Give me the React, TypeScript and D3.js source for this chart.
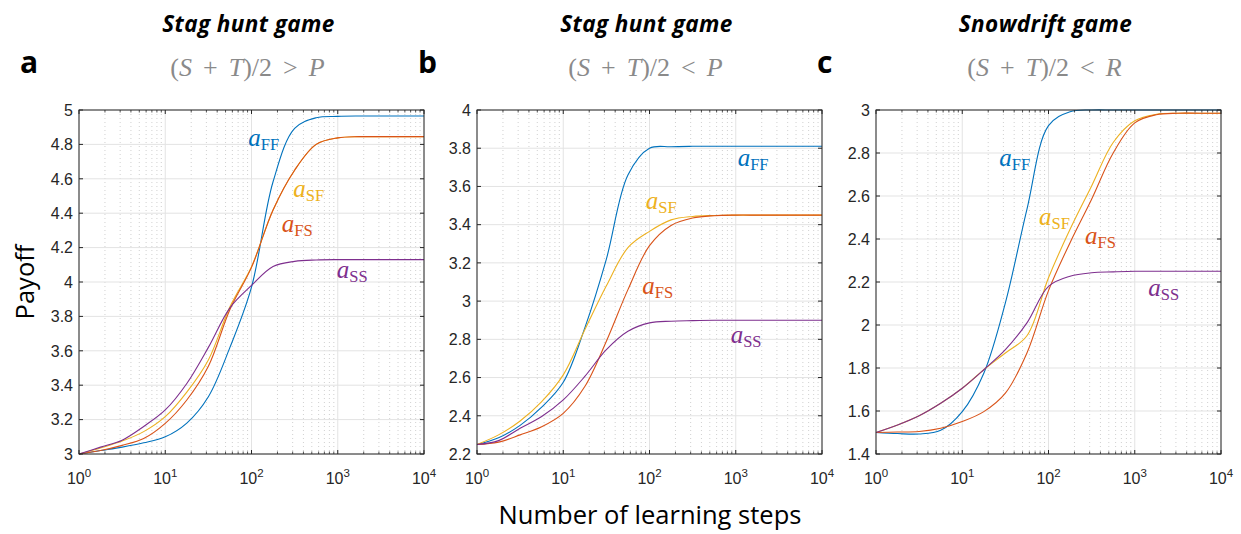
import React from 'react';
import * as d3 from 'd3';

// learning steps sampled on a log grid (quarter decades)
const learningSteps = [1, 1.778, 3.162, 5.623, 10, 17.78, 31.62, 56.23, 100, 177.8, 316.2, 562.3, 1000, 1778, 3162, 5623, 10000];

const xTickValues = [1, 10, 100, 1000, 10000];
const xTickExponents = ['0', '1', '2', '3', '4'];

// Panel a — Stag hunt, (S+T)/2 > P
const aFF_a = [3.0, 3.02, 3.04, 3.065, 3.10, 3.18, 3.333, 3.62, 3.97, 4.583, 4.893, 4.955, 4.963, 4.965, 4.965, 4.965, 4.965];
const aSF_a = [3.0, 3.035, 3.075, 3.13, 3.217, 3.36, 3.547, 3.856, 4.089, 4.419, 4.65, 4.80, 4.838, 4.845, 4.845, 4.845, 4.845];
const aFS_a = [3.0, 3.02, 3.05, 3.09, 3.178, 3.314, 3.51, 3.84, 4.085, 4.419, 4.65, 4.80, 4.838, 4.845, 4.845, 4.845, 4.845];
const aSS_a = [3.0, 3.04, 3.08, 3.16, 3.256, 3.41, 3.62, 3.85, 3.98, 4.09, 4.12, 4.128, 4.13, 4.13, 4.13, 4.13, 4.13];
const yTicks_a = [3, 3.2, 3.4, 3.6, 3.8, 4, 4.2, 4.4, 4.6, 4.8, 5];

// Panel b — Stag hunt, (S+T)/2 < P
const aFF_b = [2.25, 2.285, 2.35, 2.445, 2.575, 2.86, 3.22, 3.66, 3.80, 3.808, 3.81, 3.81, 3.81, 3.81, 3.81, 3.81, 3.81];
const aSF_b = [2.25, 2.30, 2.373, 2.474, 2.614, 2.85, 3.08, 3.28, 3.365, 3.425, 3.443, 3.448, 3.45, 3.45, 3.45, 3.45, 3.45];
const aFS_b = [2.25, 2.262, 2.30, 2.343, 2.413, 2.553, 2.79, 3.06, 3.29, 3.396, 3.435, 3.447, 3.45, 3.45, 3.45, 3.45, 3.45];
const aSS_b = [2.25, 2.27, 2.335, 2.396, 2.483, 2.606, 2.746, 2.842, 2.886, 2.895, 2.898, 2.9, 2.9, 2.9, 2.9, 2.9, 2.9];
const yTicks_b = [2.2, 2.4, 2.6, 2.8, 3, 3.2, 3.4, 3.6, 3.8, 4];

// Panel c — Snowdrift, (S+T)/2 < R
const aFF_c = [1.5, 1.495, 1.493, 1.51, 1.597, 1.776, 2.103, 2.538, 2.927, 2.992, 3.0, 3.0, 3.0, 3.0, 3.0, 3.0, 3.0];
const aSF_c = [1.5, 1.535, 1.578, 1.636, 1.706, 1.792, 1.87, 1.95, 2.22, 2.445, 2.647, 2.849, 2.95, 2.98, 2.985, 2.985, 2.985];
const aFS_c = [1.5, 1.502, 1.505, 1.52, 1.551, 1.597, 1.683, 1.87, 2.16, 2.383, 2.585, 2.80, 2.94, 2.978, 2.985, 2.985, 2.985];
const aSS_c = [1.5, 1.535, 1.578, 1.636, 1.706, 1.792, 1.885, 2.01, 2.18, 2.227, 2.243, 2.247, 2.25, 2.25, 2.25, 2.25, 2.25];
const yTicks_c = [1.4, 1.6, 1.8, 2, 2.2, 2.4, 2.6, 2.8, 3];

const seriesKeys = ['FF', 'SF', 'FS', 'SS'];
const seriesColors: Record<string, string> = { FF: '#0072BD', SF: '#EDB120', FS: '#D95319', SS: '#7E2F8E' };

// label anchors in data coordinates [steps, payoff]
const labels_a: Record<string, [number, number]> = { FF: [91.8, 4.788], SF: [305, 4.496], FS: [224, 4.292], SS: [973, 4.021] };
const labels_b: Record<string, [number, number]> = { FF: [1052, 3.707], SF: [90.4, 3.48], FS: [82.6, 3.038], SS: [873, 2.781] };
const labels_c: Record<string, [number, number]> = { FF: [26.9, 2.74], SF: [77.6, 2.463], FS: [265, 2.379], SS: [1435, 2.134] };

const panels = [
  { letter: 'a', title: 'Stag hunt game', rel: '>', rhs: 'P', yDomain: [3, 5], yTicks: yTicks_a,
    data: { FF: aFF_a, SF: aSF_a, FS: aFS_a, SS: aSS_a }, labels: labels_a },
  { letter: 'b', title: 'Stag hunt game', rel: '<', rhs: 'P', yDomain: [2.2, 4], yTicks: yTicks_b,
    data: { FF: aFF_b, SF: aSF_b, FS: aFS_b, SS: aSS_b }, labels: labels_b },
  { letter: 'c', title: 'Snowdrift game', rel: '<', rhs: 'R', yDomain: [1.4, 3], yTicks: yTicks_c,
    data: { FF: aFF_c, SF: aSF_c, FS: aFS_c, SS: aSS_c }, labels: labels_c },
];

const panelLefts = [79, 477, 876];
const PW = 345;
const TOP = 110;
const BOTTOM = 454;
const AXC = '#262626';
const SANS = '"Open Sans", Lato, sans-serif';
const TICKF = '"Liberation Sans", Arial, sans-serif';
const SERIF = '"Liberation Serif", "DejaVu Serif", serif';

function Panel({ p, x0 }: { p: any; x0: number }) {
  const x = d3.scaleLog().domain([1, 10000]).range([x0, x0 + PW]);
  const y = d3.scaleLinear().domain(p.yDomain).range([BOTTOM, TOP]);
  const minor: number[] = [];
  [1, 10, 100, 1000].forEach((d) => { for (let m = 2; m <= 9; m++) minor.push(d * m); });
  const line = d3.line<[number, number]>().x((d) => x(d[0])).y((d) => y(d[1])).curve(d3.curveCatmullRom.alpha(0.5));
  const cx = x0 + PW / 2;
  return (
    <g>
      {/* letter, title, formula */}
      <text x={x0 - 59} y={73} fontFamily={SANS} fontWeight="bold" fontSize={30} fill="#000">{p.letter}</text>
      <text x={cx - 3} y={32} textAnchor="middle" fontFamily={SANS} fontWeight="bold" fontStyle="italic" fontSize={22.5} letterSpacing={0.4} fill="#000">{p.title}</text>
      <text x={cx - 4} y={76} textAnchor="middle" fontFamily={SERIF} fontSize={26} fill="#8a8a8a">
        (<tspan fontStyle="italic">S</tspan>
        <tspan dx={11}>+</tspan>
        <tspan dx={11} fontStyle="italic">T</tspan>)/2
        <tspan dx={11}>{p.rel}</tspan>
        <tspan dx={11} fontStyle="italic">{p.rhs}</tspan>
      </text>
      {/* grid */}
      {minor.map((m) => (
        <line key={'mg' + m} x1={x(m)} x2={x(m)} y1={TOP} y2={BOTTOM} stroke="#c4c4c4" strokeWidth={0.8} strokeDasharray="1,3" />
      ))}
      {xTickValues.map((t) => (
        <line key={'xg' + t} x1={x(t)} x2={x(t)} y1={TOP} y2={BOTTOM} stroke="#e3e3e3" strokeWidth={1} />
      ))}
      {p.yTicks.map((t: number) => (
        <line key={'yg' + t} x1={x0} x2={x0 + PW} y1={y(t)} y2={y(t)} stroke="#e3e3e3" strokeWidth={1} />
      ))}
      {/* curves */}
      {seriesKeys.map((k) => (
        <path key={k} d={line(learningSteps.map((s, i) => [s, p.data[k][i]] as [number, number])) || ''}
          fill="none" stroke={seriesColors[k]} strokeWidth={1.1} />
      ))}
      {/* labels */}
      {seriesKeys.map((k) => {
        const [lx, ly] = p.labels[k];
        return (
          <text key={'l' + k} x={x(lx)} y={y(ly)} fontFamily={SERIF} fill={seriesColors[k]}>
            <tspan fontStyle="italic" fontSize={25}>a</tspan>
            <tspan fontSize={16.5} dy={4}>{k}</tspan>
          </text>
        );
      })}
      {/* box */}
      <rect x={x0} y={TOP} width={PW} height={BOTTOM - TOP} fill="none" stroke={AXC} strokeWidth={1} />
      {/* ticks */}
      {xTickValues.map((t) => (
        <g key={'xt' + t}>
          <line x1={x(t)} x2={x(t)} y1={BOTTOM} y2={BOTTOM - 4} stroke={AXC} />
          <line x1={x(t)} x2={x(t)} y1={TOP} y2={TOP + 4} stroke={AXC} />
        </g>
      ))}
      {minor.map((m) => (
        <g key={'mt' + m}>
          <line x1={x(m)} x2={x(m)} y1={BOTTOM} y2={BOTTOM - 2.5} stroke={AXC} strokeWidth={0.8} />
          <line x1={x(m)} x2={x(m)} y1={TOP} y2={TOP + 2.5} stroke={AXC} strokeWidth={0.8} />
        </g>
      ))}
      {p.yTicks.map((t: number) => (
        <g key={'yt' + t}>
          <line x1={x0} x2={x0 + 4} y1={y(t)} y2={y(t)} stroke={AXC} />
          <line x1={x0 + PW} x2={x0 + PW - 4} y1={y(t)} y2={y(t)} stroke={AXC} />
          <text x={x0 - 6} y={y(t)} dy="0.36em" textAnchor="end" fontFamily={TICKF} fontSize={16} fill={AXC}>
            {String(+t.toFixed(1))}
          </text>
        </g>
      ))}
      {xTickValues.map((t, i) => (
        <text key={'xl' + t} x={x(t)} y={484} textAnchor="middle" fontFamily={TICKF} fontSize={16} fill={AXC}>
          10<tspan fontSize={11.5} dy={-7.5}>{xTickExponents[i]}</tspan>
        </text>
      ))}
    </g>
  );
}

export default function App() {
  return (
    <svg width={1241} height={534} style={{ position: 'absolute', left: 0, top: 0, background: '#fff' }}>
      <rect x={0} y={0} width={1241} height={534} fill="#fff" />
      {panels.map((p, i) => (
        <Panel key={i} p={p} x0={panelLefts[i]} />
      ))}
      <text transform="translate(34,282) rotate(-90)" textAnchor="middle" fontFamily={SANS} fontSize={25.5} fill="#000">Payoff</text>
      <text x={650} y={524} textAnchor="middle" fontFamily={SANS} fontSize={25.5} fill="#000">Number of learning steps</text>
    </svg>
  );
}
